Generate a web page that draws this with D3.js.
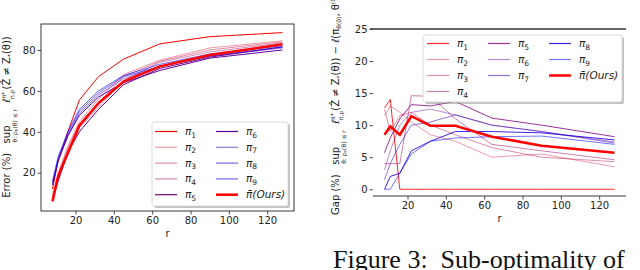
<!DOCTYPE html>
<html>
<head>
<meta charset="utf-8">
<script src="https://cdn.jsdelivr.net/npm/d3@7"></script>
<style>
  body { margin: 0; background: #fff; }
  svg { font-family: "DejaVu Sans", sans-serif; }
</style>
</head>
<body>
<svg id="fig" width="640" height="270"></svg>
<script>
// r values on the x axis
const r = [8, 11, 16, 22, 32, 45, 64, 90, 128];
const policyIds = ["1", "2", "3", "4", "5", "6", "7", "8", "9"];

// left panel: worst-case error (%) per policy
const errorPi = [
  [12, 26, 40, 55.5, 67, 75.5, 83, 86.5, 88.5],
  [9, 20, 33, 45, 56, 68, 75, 81, 84.5],
  [8, 19, 32, 44, 54, 67, 74.5, 80, 84],
  [7, 17, 31, 42, 52, 65, 74, 79, 83.5],
  [7, 16, 30, 40, 51, 63, 71, 76.5, 81.5],
  [14, 26, 38, 48, 57, 64, 70, 76, 80],
  [14, 26, 38, 49, 58, 66, 72, 77, 81],
  [15, 27, 39, 50, 59, 67, 72, 77, 81.5],
  [16, 28, 40, 51, 60, 67.5, 73, 78, 82]
];
const errorOurs = [6, 18.5, 29.5, 43, 54, 64.5, 72, 77.5, 82.8];

// right panel: gap (%) per policy
const gapPi = [
  [12.7, 14.0, 0, 0, 0, 0, 0, 0, 0],
  [11.5, 13.0, 12.0, 10.5, 8.5, 7.5, 5.0, 5.5, 3.5],
  [12.5, 9.0, 11.5, 12.0, 10.0, 8.5, 6.5, 5.0, 4.3],
  [4.0, 4.0, 4.0, 14.6, 14.5, 11.0, 7.0, 6.0, 4.6],
  [5.7, 8.0, 11.0, 13.2, 13.0, 13.7, 11.1, 10.0, 8.2],
  [3.0, 6.0, 10.0, 12.0, 12.5, 11.6, 10.0, 9.0, 7.4],
  [1.5, 4.0, 7.0, 10.0, 10.5, 11.6, 10.0, 9.0, 7.2],
  [0, 2.0, 2.5, 6.0, 7.5, 9.0, 9.0, 8.8, 7.7],
  [0, 0, 2.5, 5.5, 7.5, 8.0, 8.2, 8.3, 7.0]
];
const gapOurs = [8.5, 9.8, 8.5, 11.4, 9.9, 9.9, 8.2, 6.8, 5.7];

const xTicks = [20, 40, 60, 80, 100, 120];
const errorTicks = [20, 40, 60, 80];
const gapTicks = [0, 5, 10, 15, 20, 25];

// styling
const errorAlpha = [1, 0.4, 0.45, 0.45, 1, 1, 0.55, 0.6, 0.6];
const gapAlpha = [0.85, 0.4, 0.45, 0.5, 0.8, 0.45, 0.55, 0.85, 0.55];

function piColor(i) {
  let t = i / 8;
  return d3.rgb(255 * (1 - t), 0, 255 * t).formatHex();
}

const svg = d3.select("#fig");

function drawPanel(opt) {
  let g = svg.append("g");
  let x = d3.scaleLinear().domain([2, 134]).range([opt.left, opt.right]);
  let y = d3.scaleLinear().domain(opt.yDomain).range([opt.bottom, opt.top]);

  let xa = g.append("g")
    .attr("transform", `translate(0,${opt.bottom})`)
    .call(d3.axisBottom(x).tickValues(xTicks).tickSize(3.5).tickPadding(2));
  let ya = g.append("g")
    .attr("transform", `translate(${opt.left},0)`)
    .call(d3.axisLeft(y).tickValues(opt.yTicks).tickSize(3.5).tickPadding(2));
  [xa, ya].forEach(a => {
    a.select(".domain").remove();
    a.selectAll("text").attr("font-size", 10).attr("fill", "#222")
      .attr("font-family", "DejaVu Sans");
    a.selectAll("line").attr("stroke", "#222").attr("stroke-width", 0.8);
  });

  let line = d3.line().x((d, i) => x(r[i])).y(d => y(d));
  opt.series.forEach((s, i) => {
    g.append("path").attr("d", line(s))
      .attr("fill", "none")
      .attr("stroke", piColor(i))
      .attr("stroke-opacity", opt.alpha[i])
      .attr("stroke-width", 1);
  });
  g.append("path").attr("d", line(opt.ours))
    .attr("fill", "none").attr("stroke", "#ff0000").attr("stroke-width", 2.5);

  // spines
  if (opt.box) {
    g.append("rect")
      .attr("x", opt.left).attr("y", opt.top)
      .attr("width", opt.right - opt.left).attr("height", opt.bottom - opt.top)
      .attr("fill", "none").attr("stroke", "#222").attr("stroke-width", 0.9);
  } else {
    g.append("line").attr("x1", opt.left - 3).attr("x2", opt.right)
      .attr("y1", opt.top).attr("y2", opt.top)
      .attr("stroke", "#333").attr("stroke-width", 1.4);
    g.append("line").attr("x1", opt.left).attr("x2", opt.right)
      .attr("y1", opt.bottom).attr("y2", opt.bottom)
      .attr("stroke", "#222").attr("stroke-width", 0.9);
  }

  // x label
  g.append("text").attr("x", (opt.left + opt.right) / 2).attr("y", opt.bottom + 26)
    .attr("text-anchor", "middle").attr("font-size", 10).attr("fill", "#222").text("r");

  // legend
  let L = opt.legend;
  g.append("rect").attr("x", L.x + 2).attr("y", L.y + 2)
    .attr("width", L.w).attr("height", L.h).attr("rx", 2)
    .attr("fill", "#888").attr("fill-opacity", 0.5);
  g.append("rect").attr("x", L.x).attr("y", L.y)
    .attr("width", L.w).attr("height", L.h).attr("rx", 2)
    .attr("fill", "#fff").attr("stroke", "#d0d0d0").attr("stroke-width", 0.8);

  let entries = policyIds.map((id, i) => ({id: id, color: piColor(i), alpha: opt.alpha[i], w: 1.2}));
  entries.push({id: null, color: "#ff0000", alpha: 1, w: 2.5});
  let k = 0;
  L.cols.forEach((n, c) => {
    for (let j = 0; j < n; j++, k++) {
      let e = entries[k];
      let ey = L.rowY + j * L.rowStep;
      let lx = L.colX[c];
      g.append("line").attr("x1", lx).attr("x2", lx + 22)
        .attr("y1", ey).attr("y2", ey)
        .attr("stroke", e.color).attr("stroke-opacity", e.alpha).attr("stroke-width", e.w);
      let t = g.append("text").attr("x", lx + 30).attr("y", ey + 3.5)
        .attr("font-size", 10.5).attr("font-style", "italic").attr("fill", "#222");
      if (e.id) {
        t.append("tspan").text("π");
        t.append("tspan").attr("font-size", 7.5).attr("dy", 2.5).attr("font-style", "normal").text(e.id);
      } else {
        t.append("tspan").text("π\u0304(Ours)");
      }
    }
  });
  return g;
}

drawPanel({
  left: 41, right: 294, top: 24, bottom: 211,
  yDomain: [1.3, 92.7], yTicks: errorTicks,
  series: errorPi, ours: errorOurs, alpha: errorAlpha, box: true,
  legend: {x: 152, y: 122, w: 136, h: 84, cols: [5, 5],
           colX: [155, 216], rowY: 131.5, rowStep: 15.8}
});

drawPanel({
  left: 373, right: 626, top: 29, bottom: 196,
  yDomain: [-1.05, 25], yTicks: gapTicks,
  series: gapPi, ours: gapOurs, alpha: gapAlpha, box: false,
  legend: {x: 423, y: 35, w: 199, h: 67, cols: [4, 3, 3],
           colX: [427, 488, 549], rowY: 43.5, rowStep: 16}
});

// rotated y-axis labels
function yLabel(x, y, anchor, head, tail) {
  let t = svg.append("text")
    .attr("transform", `translate(${x},${y}) rotate(-90)`)
    .attr("text-anchor", anchor).attr("font-size", 10).attr("fill", "#222")
    .attr("xml:space", "preserve");
  t.append("tspan").text(head + "   sup");
  t.append("tspan").attr("font-size", 6).attr("dx", -17).attr("dy", 7).text("θ: ρ\u209A(θ) ≤ r");
  t.append("tspan").attr("dx", 3).attr("dy", -7).text(" ℓ");
  t.append("tspan").attr("font-size", 6).attr("dy", -4).text("π*");
  t.append("tspan").attr("font-size", 6).attr("dx", -7).attr("dy", 8).text("n,ρ");
  t.append("tspan").attr("dy", -4).text("(Ẑ ≠ Z");
  t.append("tspan").attr("font-size", 6).attr("dy", 2).text("*");
  t.append("tspan").attr("dy", -2).text("(θ))");
  if (tail) {
    t.append("tspan").text(" − ℓ(π");
    t.append("tspan").attr("font-size", 6).attr("dy", 2).text("θ(0)");
    t.append("tspan").attr("dy", -2).text(", θ");
    t.append("tspan").attr("font-size", 6).attr("dy", -4).text("(0)");
    t.append("tspan").attr("dy", 4).text(")");
  }
}
yLabel(10, 117, "middle", "Error (%)", false);
yLabel(339, 215, "start", "Gap (%)", true);

// caption fragment
svg.append("text").attr("x", 333).attr("y", 268)
  .style("font-family", "'Liberation Serif', 'DejaVu Serif', serif").attr("font-size", 26)
  .attr("fill", "#111").attr("xml:space", "preserve")
  .text("Figure 3:  Sub-optimality of");
</script>
</body>
</html>
